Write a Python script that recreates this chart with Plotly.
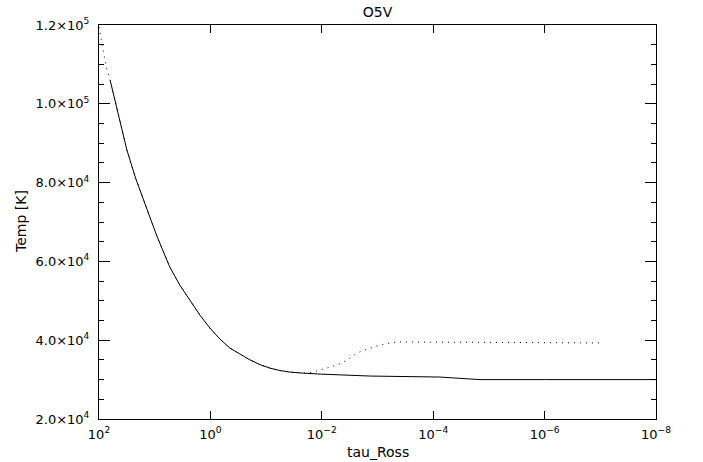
import plotly.graph_objects as go

# Solid model (log10 tau_Ross, Temperature K)
solid_logtau = [1.80, 1.66, 1.50, 1.34, 1.17, 0.96, 0.73, 0.55, 0.37, 0.19, 0.01, -0.17,
                -0.35, -0.53, -0.71, -0.89, -1.07, -1.25, -1.43, -1.66, -1.97, -2.87,
                -3.76, -4.12, -4.39, -4.66, -4.84, -6.0, -8.0]
solid_temp = [106000, 97700, 88300, 81000, 74300, 66400, 58600, 54000, 50200, 46400, 43100, 40300,
              38000, 36500, 35000, 33800, 32900, 32300, 31900, 31650, 31400, 30900,
              30800, 30650, 30400, 30150, 30000, 30000, 30000]

# Dotted model
dot_logtau = [2.0, 1.87, 1.80, 1.66, 1.50, 1.34, 1.17, 0.96, 0.73, 0.55, 0.37, 0.19, 0.01,
              -0.17, -0.35, -0.53, -0.71, -0.89, -1.07, -1.25, -1.43, -1.66, -1.79, -1.97,
              -2.27, -2.45, -2.63, -2.92, -3.13, -3.35, -3.76, -5.0, -7.0]
dot_temp = [119500, 109300, 106000, 97700, 88300, 81000, 74300, 66400, 58600, 54000, 50200, 46400, 43100,
            40300, 38000, 36500, 35000, 33800, 32900, 32300, 31900, 31650, 31800, 32440,
            33700, 34900, 36750, 38300, 39050, 39550, 39550, 39450, 39300]

x_tickvals = [1e2, 1e0, 1e-2, 1e-4, 1e-6, 1e-8]
x_ticktext = ["10<sup>2</sup>", "10<sup>0</sup>", "10<sup>−2</sup>", "10<sup>−4</sup>",
              "10<sup>−6</sup>", "10<sup>−8</sup>"]
y_tickvals = [20000, 40000, 60000, 80000, 100000, 120000]
y_ticktext = ["2.0×10<sup>4</sup>", "4.0×10<sup>4</sup>", "6.0×10<sup>4</sup>",
              "8.0×10<sup>4</sup>", "1.0×10<sup>5</sup>", "1.2×10<sup>5</sup>"]

L, R, T, B = 99, 656, 25, 419
PW, PH = R - L, B - T

fig = go.Figure()
fig.add_trace(go.Scatter(x=[10 ** v for v in dot_logtau], y=dot_temp, mode="lines",
                         line=dict(color="black", width=1, dash="1px,5px"), showlegend=False))
fig.add_trace(go.Scatter(x=[10 ** v for v in solid_logtau], y=solid_temp, mode="lines",
                         line=dict(color="black", width=1), showlegend=False))

font = dict(family="DejaVu Sans, sans-serif", size=13, color="black")
title_font = dict(family="DejaVu Sans, sans-serif", size=14, color="black")
fig.update_layout(
    width=703, height=462,
    margin=dict(l=L, r=703 - R, t=T, b=462 - B),
    paper_bgcolor="white", plot_bgcolor="white",
    font=font,
    title=dict(text="O5V", x=(L + R) / 2 / 703, xanchor="center", y=1 - 12 / 462,
               yanchor="middle", font=title_font),
    xaxis=dict(type="log", range=[2, -8], tickmode="array", tickvals=x_tickvals,
               ticktext=x_ticktext, ticks="inside", ticklen=8, tickcolor="black",
               ticklabelstandoff=3, automargin=False,
               showline=True, linecolor="black", linewidth=1, mirror="ticks",
               showgrid=False, zeroline=False),
    yaxis=dict(range=[20000, 120000], tickmode="array", tickvals=y_tickvals,
               ticktext=y_ticktext, ticks="inside", ticklen=11, tickcolor="black",
               ticklabelstandoff=6, automargin=False,
               showline=True, linecolor="black", linewidth=1, mirror="ticks",
               showgrid=False, zeroline=False,
               minor=dict(tickmode="linear", tick0=0, dtick=5000, ticks="inside",
                          ticklen=5, tickcolor="black", showgrid=False)),
    annotations=[
        dict(text="tau_Ross", xref="paper", yref="paper", x=0.5, y=(B - 452) / PH,
             xanchor="center", yanchor="middle", showarrow=False, font=title_font),
        dict(text="Temp [K]", xref="paper", yref="paper", x=(21 - L) / PW, y=0.5,
             xanchor="center", yanchor="middle", textangle=-90, showarrow=False,
             font=title_font),
    ],
)

fig.write_html("out.html")
